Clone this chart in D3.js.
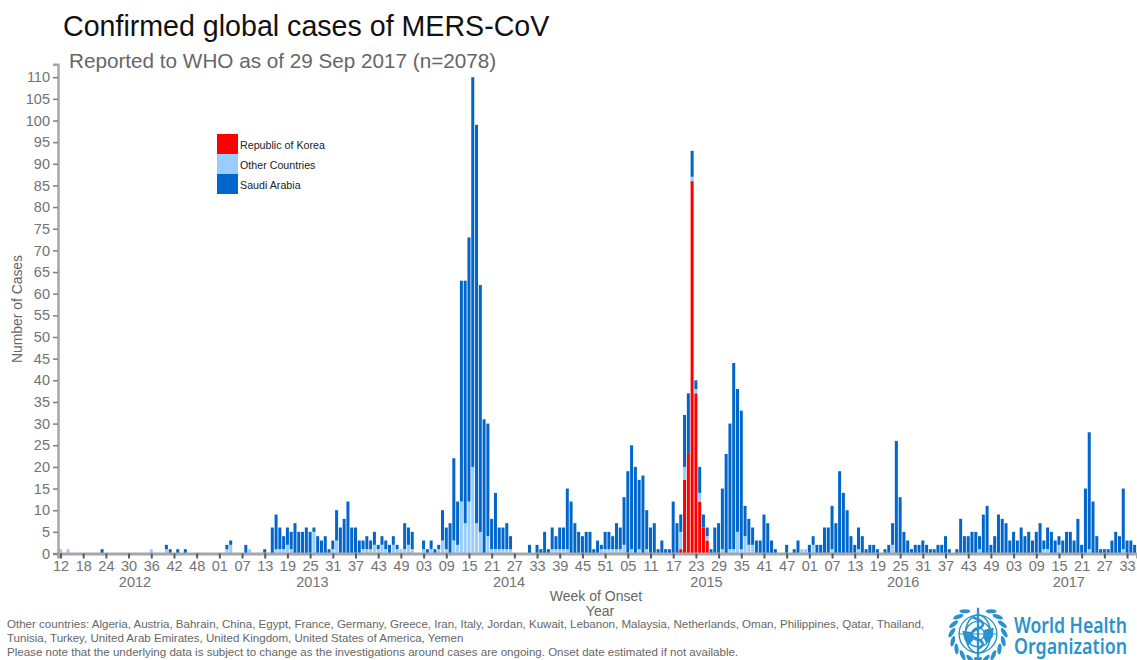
<!DOCTYPE html>
<html>
<head>
<meta charset="utf-8">
<script src="https://cdn.jsdelivr.net/npm/d3@7"></script>
<style>
body { margin: 0; background: #fff; overflow: hidden; }
text { font-family: "Liberation Sans", Arial, sans-serif; }
</style>
</head>
<body>
<script>
//data, one value per week of onset starting at week 12 of 2012, 10 weeks a row
var saudi = [
    0,0,0,0,0,0,0,0,0,0, 0,1,0,0,0,0,0,0,0,0,
    0,0,0,0,0,0,0,0,1,1, 0,1,0,1,0,0,0,0,0,0,
    0,0,0,0,1,1,0,0,0,2, 0,0,0,0,1,0,6,8,5,3,
    4,4,7,5,5,6,5,1,4,3, 4,1,2,7,6,8,12,6,6,3,
    2,3,2,3,1,2,2,2,2,1, 0,6,4,4,0,0,2,1,2,1,
    1,7,5,7,19,10,51,56,61,90, 92,57,31,26,7,13,5,5,6,3,
    0,0,0,0,2,0,2,1,5,1, 5,3,5,5,14,12,7,5,4,5,
    5,1,3,1,4,4,3,6,5,11, 19,24,20,16,18,9,6,7,1,3,
    1,1,12,7,4,12,14,6,2,6, 3,2,1,6,7,14,23,29,43,33,
    32,7,6,4,3,3,9,7,3,1, 0,0,2,0,1,3,0,0,2,2,
    2,2,6,6,10,7,19,14,10,4, 2,5,4,1,2,2,1,0,1,2,
    5,26,13,5,3,1,2,2,3,2, 1,1,2,2,4,1,0,1,8,4,
    4,5,5,3,9,11,2,4,9,8, 7,3,5,3,6,4,5,3,5,7,
    2,5,5,3,2,3,5,5,3,8, 2,15,27,12,4,1,1,1,3,5,
    4,14,3,3,2
];
var other = [
    1,0,1,0,0,0,0,0,0,0, 0,0,0,0,0,0,0,0,0,0,
    0,0,0,0,1,0,0,0,1,0, 0,0,0,0,0,0,0,0,0,0,
    0,0,0,0,1,2,0,0,0,0, 1,0,0,0,0,0,0,1,1,1,
    2,1,0,0,0,0,0,5,0,0, 0,0,1,3,0,0,0,0,0,0,
    1,1,1,2,1,2,1,0,2,1, 1,1,2,1,0,0,1,0,1,0,
    1,3,1,0,3,2,12,7,12,20, 7,5,0,4,1,1,1,1,1,1,
    0,0,0,0,0,0,0,0,0,0, 1,1,1,1,1,0,0,0,0,0,
    0,0,0,1,1,1,1,1,1,2, 0,1,0,1,0,1,0,0,0,0,
    0,0,0,0,4,3,0,1,1,2, 0,1,0,0,0,1,0,1,1,5,
    1,4,2,2,0,0,0,0,0,0, 0,0,0,0,0,0,1,1,0,2,
    0,0,0,0,1,0,0,0,0,0, 0,1,0,0,0,0,0,0,0,0,
    2,0,0,0,0,0,0,0,0,0, 0,0,0,0,0,0,0,0,0,0,
    0,0,0,1,0,0,0,0,0,0, 0,0,0,0,0,0,0,0,0,0,
    1,1,0,0,2,0,0,0,0,0, 0,0,1,0,0,0,0,0,0,0,
    0,1,0,0,0
];
var korea = [
    0,0,0,0,0,0,0,0,0,0, 0,0,0,0,0,0,0,0,0,0,
    0,0,0,0,0,0,0,0,0,0, 0,0,0,0,0,0,0,0,0,0,
    0,0,0,0,0,0,0,0,0,0, 0,0,0,0,0,0,0,0,0,0,
    0,0,0,0,0,0,0,0,0,0, 0,0,0,0,0,0,0,0,0,0,
    0,0,0,0,0,0,0,0,0,0, 0,0,0,0,0,0,0,0,0,0,
    0,0,0,0,0,0,0,0,0,0, 0,0,0,0,0,0,0,0,0,0,
    0,0,0,0,0,0,0,0,0,0, 0,0,0,0,0,0,0,0,0,0,
    0,0,0,0,0,0,0,0,0,0, 0,0,0,0,0,0,0,0,0,0,
    0,0,0,0,1,17,23,86,37,12, 6,3,0,0,0,0,0,0,0,0,
    0,0,0,0,0,0,0,0,0,0, 0,0,0,0,0,0,0,0,0,0,
    0,0,0,0,0,0,0,0,0,0, 0,0,0,0,0,0,0,0,0,0,
    0,0,0,0,0,0,0,0,0,0, 0,0,0,0,0,0,0,0,0,0,
    0,0,0,0,0,0,0,0,0,0, 0,0,0,0,0,0,0,0,0,0,
    0,0,0,0,0,0,0,0,0,0, 0,0,0,0,0,0,0,0,0,0,
    0,0,0,0,0
];
var weekTickLabels = ['12','18','24','30','36','42','48','01','07','13','19','25','31','37','43','49',
    '03','09','15','21','27','33','39','45','51','05','11','17','23','29','35','41','47',
    '01','07','13','19','25','31','37','43','49','03','09','15','21','27','33'];
var yTicks = d3.range(0, 111, 5);
var years = ['2012', '2013', '2014', '2015', '2016', '2017'];
var yearCenters = [19.7, 66.6, 118.6, 170.8, 222.8, 266.6]; // in weeks from the first bar
var legendItems = ['Republic of Korea', 'Other Countries', 'Saudi Arabia'];
var colors = {korea: '#ff0000', other: '#99ccff', saudi: '#0066cc'};
var footnotes = [
    'Other countries: Algeria, Austria, Bahrain, China, Egypt, France, Germany, Greece, Iran, Italy, Jordan, Kuwait, Lebanon, Malaysia, Netherlands, Oman, Philippines, Qatar, Thailand,',
    'Tunisia, Turkey, United Arab Emirates, United Kingdom, United States of America, Yemen',
    'Please note that the underlying data is subject to change as the investigations around cases are ongoing. Onset date estimated if not available.'
];

var svg = d3.select('body').append('svg')
    .attr('width', 1137)
    .attr('height', 660)
    .style('display', 'block');

var x = d3.scaleLinear().domain([-0.66, 284.63]).range([58, 1137]);
var y = d3.scaleLinear().domain([0, 113]).range([553.5, 64.2]);
var barWidth = 3;

//bars, slightly soft like the source image
var rows = saudi.map(function (d, i) {
    return {week: i, korea: korea[i], other: other[i], saudi: d};
});
var stacked = d3.stack().keys(['korea', 'other', 'saudi'])(rows);

svg.append('g')
    .style('filter', 'blur(0.35px)')
    .selectAll('g')
    .data(stacked)
    .enter()
    .append('g')
    .attr('fill', function (d) { return colors[d.key]; })
    .selectAll('rect')
    .data(function (d) { return d.filter(function (p) { return p[1] > p[0]; }); })
    .enter()
    .append('rect')
    .attr('x', function (d) { return x(d.data.week) - barWidth / 2; })
    .attr('y', function (d) { return y(d[1]); })
    .attr('width', barWidth)
    .attr('height', function (d) { return y(d[0]) - y(d[1]); });

//axes
var xAxis = d3.axisBottom(x)
    .tickValues(d3.range(0, 283, 6))
    .tickFormat(function (d) { return weekTickLabels[d / 6]; })
    .tickSizeOuter(0)
    .tickSize(5)
    .tickPadding(2);
var yAxis = d3.axisLeft(y)
    .tickValues(yTicks)
    .tickSizeOuter(0)
    .tickSize(5)
    .tickPadding(3);

var gx = svg.append('g').attr('transform', 'translate(0,553.5)').call(xAxis);
var gy = svg.append('g').attr('transform', 'translate(58,0)').call(yAxis);

gx.select('.domain').attr('stroke', '#a6a6a6').attr('stroke-width', 3);
gy.select('.domain').attr('stroke', '#a6a6a6').attr('stroke-width', 2.5);
gx.selectAll('.tick line').attr('stroke', '#595959').attr('stroke-width', 2);
gy.selectAll('.tick line').attr('stroke', '#7f7f7f').attr('stroke-width', 1.5);
svg.selectAll('.tick text')
    .attr('fill', '#737373')
    .style('font-size', '14.5px')
    .style('font-family', '"Liberation Sans", Arial, sans-serif');

svg.selectAll('.yearLabel')
    .data(years)
    .enter()
    .append('text')
    .attr('class', 'yearLabel')
    .attr('x', function (d, i) { return x(yearCenters[i]); })
    .attr('y', 587)
    .attr('text-anchor', 'middle')
    .attr('fill', '#737373')
    .style('font-size', '14.5px')
    .text(function (d) { return d; });

//titles
svg.append('text').attr('x', 63).attr('y', 36)
    .attr('fill', '#111')
    .style('font-size', '28.6px')
    .text('Confirmed global cases of MERS-CoV');
svg.append('text').attr('x', 69).attr('y', 68)
    .attr('fill', '#666')
    .style('font-size', '20.7px')
    .text('Reported to WHO as of 29 Sep 2017 (n=2078)');

svg.append('text')
    .attr('transform', 'translate(22,309) rotate(-90)')
    .attr('text-anchor', 'middle')
    .attr('fill', '#666')
    .style('font-size', '13.9px')
    .text('Number of Cases');
svg.append('text').attr('x', 596).attr('y', 601)
    .attr('text-anchor', 'middle').attr('fill', '#666')
    .style('font-size', '14px').text('Week of Onset');
svg.append('text').attr('x', 600).attr('y', 616)
    .attr('text-anchor', 'middle').attr('fill', '#666')
    .style('font-size', '14px').text('Year');

//legend
var legendColors = [colors.korea, colors.other, colors.saudi];
svg.selectAll('.legendBox')
    .data(legendItems)
    .enter()
    .append('rect')
    .attr('class', 'legendBox')
    .attr('x', 217)
    .attr('y', function (d, i) { return 134 + i * 20; })
    .attr('width', 21)
    .attr('height', 20)
    .attr('fill', function (d, i) { return legendColors[i]; });
svg.selectAll('.legendText')
    .data(legendItems)
    .enter()
    .append('text')
    .attr('class', 'legendText')
    .attr('x', 240)
    .attr('y', function (d, i) { return 149 + i * 20; })
    .attr('fill', '#222')
    .style('font-size', '10.7px')
    .text(function (d) { return d; });

//footnotes
svg.selectAll('.footnote')
    .data(footnotes)
    .enter()
    .append('text')
    .attr('class', 'footnote')
    .attr('x', 7)
    .attr('y', function (d, i) { return 628 + i * 14; })
    .attr('fill', '#666')
    .style('font-size', '11.55px')
    .text(function (d) { return d; });

//WHO emblem
var blue = '#2a93cf';
var logo = svg.append('g').attr('transform', 'translate(978,634) scale(1.05)')
    .attr('fill', 'none').attr('stroke', blue);
[6, 12, 18].forEach(function (r) {
    logo.append('circle').attr('r', r).attr('stroke-width', 1.3);
});
[-12, 0, 12].forEach(function (rx) {
    logo.append('ellipse').attr('rx', Math.abs(rx)).attr('ry', 18).attr('stroke-width', 1.1);
});
logo.append('line').attr('x1', -18).attr('x2', 18).attr('stroke-width', 1.1);
logo.append('line').attr('y1', -25).attr('y2', 22).attr('stroke-width', 2.2);
logo.append('path').attr('stroke-width', 2.4)
    .attr('d', 'M-5,-16 C7,-12 7,-8 0,-5 C-8,-2 -8,2 0,5 C6,8 6,11 0,14');
//land masses over the globe
logo.append('path').attr('fill', blue).attr('stroke', 'none')
    .attr('d', 'M-15,-3 L-6,-2 L-4,5 L-9,11 L-13,5 Z M6,-4 L15,-6 L14,3 L8,9 L5,3 Z');
//laurels
[-1, 1].forEach(function (side) {
    var branch = logo.append('g').attr('transform', 'scale(' + side + ',1)');
    d3.range(-60, 95, 19).forEach(function (a) {
        var rad = a * Math.PI / 180;
        branch.append('ellipse')
            .attr('cx', 25 * Math.cos(rad))
            .attr('cy', 25 * Math.sin(rad))
            .attr('rx', 5.2)
            .attr('ry', 2)
            .attr('fill', blue)
            .attr('stroke', 'none')
            .attr('transform', 'rotate(' + (a + 60) + ' ' + (25 * Math.cos(rad)) + ' ' + (25 * Math.sin(rad)) + ')');
    });
});

svg.append('text').attr('transform', 'translate(1014,633) scale(1,1.12)')
    .attr('fill', blue).attr('textLength', 113).attr('lengthAdjust', 'spacingAndGlyphs')
    .style('font-family', '"Noto Sans", sans-serif').style('font-weight', 600).style('font-size', '18.5px')
    .text('World Health');
svg.append('text').attr('transform', 'translate(1014,654) scale(1,1.12)')
    .attr('fill', blue).attr('textLength', 113).attr('lengthAdjust', 'spacingAndGlyphs')
    .style('font-family', '"Noto Sans", sans-serif').style('font-weight', 600).style('font-size', '18.5px')
    .text('Organization');
</script>
</body>
</html>
